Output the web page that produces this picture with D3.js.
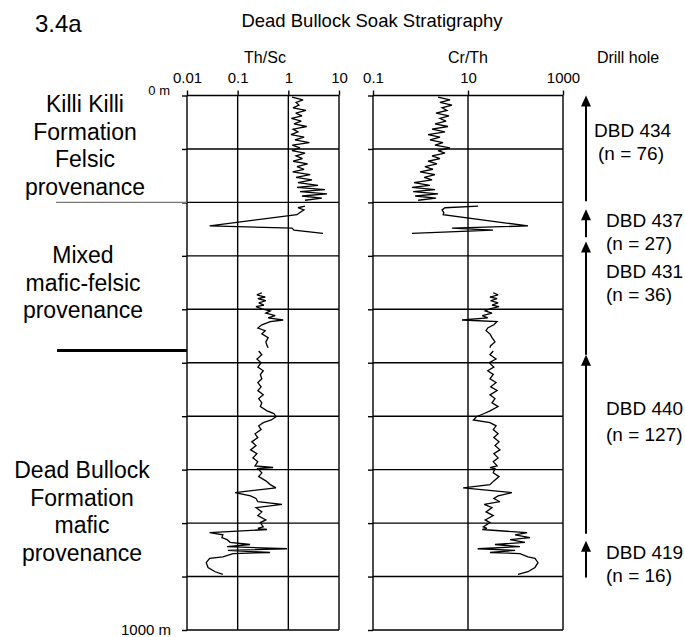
<!DOCTYPE html>
<html>
<head>
<meta charset="utf-8">
<script src="https://cdn.jsdelivr.net/npm/d3@7"></script>
<style>
  body { margin: 0; background: #fff; }
  svg { display: block; }
  text { font-family: "Liberation Sans", Arial, Helvetica, sans-serif; fill: #000; }
</style>
</head>
<body>
<svg id="chart" width="685" height="637"></svg>
<script>
// ---- Depth axis and ratio axes ----
const depthTicks = [0, 100, 200, 300, 400, 500, 600, 700, 800, 900, 1000];
const thscTicks = [0.01, 0.1, 1, 10];
const thscTickLabels = ["0.01", "0.1", "1", "10"];
const crthTicks = [0.1, 10, 1000];
const crthTickLabels = ["0.1", "10", "1000"];

// ---- Drill holes (depth in metres) ----
const holeNames = ["DBD 434", "DBD 437", "DBD 431", "DBD 440", "DBD 419"];
const holeCounts = [76, 27, 36, 127, 16];
const holeTop = [0, 213, 273, 485, 833];
const holeBottom = [198, 265, 485, 820, 902];

// ---- Formation boundaries (m) ----
const felsicBase = 200;
const mixedBase = 477;

// ---- Samples per hole: depth (m), Th/Sc, Cr/Th ----
const depth434 = [3, 8, 13, 18, 23, 28, 33, 38, 43, 48, 53, 58, 63, 68, 73, 78, 83, 88, 93, 98, 103, 108, 113, 118, 123, 128, 133, 138, 143, 148, 153, 158, 163, 168, 172, 176, 180, 184, 188, 192, 196];
const thsc434 = [1.18, 1.95, 1.42, 1.62, 1.24, 2.23, 1.40, 1.86, 1.15, 1.80, 1.29, 2.30, 1.24, 1.55, 1.13, 2.05, 1.35, 2.60, 1.20, 1.70, 1.18, 2.13, 1.42, 1.90, 1.24, 2.40, 1.48, 2.04, 1.22, 2.70, 1.42, 2.93, 1.55, 3.85, 1.48, 5.29, 1.70, 5.80, 1.86, 4.6, 2.13];
const crth434 = [2.34, 4.18, 2.57, 4.6, 2.84, 3.61, 2.12, 3.98, 2.57, 3.44, 2.02, 3.79, 1.75, 3.28, 1.44, 2.57, 1.58, 2.98, 2.02, 4.18, 2.34, 3.28, 1.75, 2.57, 1.44, 2.22, 1.24, 1.83, 0.98, 2.02, 1.2, 1.75, 0.73, 1.58, 0.66, 2.02, 0.70, 2.34, 0.77, 2.12, 0.89];

const depth437 = [207, 210, 214, 219, 223, 244, 248, 252, 258];
const thsc437 = [2.13, 1.55, 2.04, 1.70, 1.48, 0.028, 1.18, 1.29, 4.83];
const crth437 = [16.3, 3.28, 2.84, 3.1, 3.0, 183, 4.6, 33.6, 0.66];

const depth431 = [369, 373, 377, 380, 384, 388, 392, 395, 399, 403, 407, 412, 416, 420, 423, 429, 435, 440, 446, 453, 461, 468, 472];
const thsc431 = [0.30, 0.24, 0.35, 0.25, 0.36, 0.26, 0.33, 0.23, 0.30, 0.44, 0.36, 0.55, 0.40, 0.79, 0.44, 0.30, 0.25, 0.35, 0.30, 0.40, 0.36, 0.38, 0.40];
const crth431 = [34, 43, 29, 41, 30, 43, 32, 45, 29, 23, 32, 20, 26, 7.5, 41, 35, 26, 24, 29, 32, 37, 30, 29];

const depth440 = [478, 485, 493, 500, 508, 515, 522, 530, 537, 545, 552, 560, 567, 575, 582, 590, 595, 601, 607, 612, 618, 625, 633, 640, 648, 655, 663, 670, 678, 685, 693, 696, 698, 706, 713, 721, 728, 734, 743, 749, 754, 760, 765, 771, 779, 786, 794, 799, 807, 810, 812];
const thsc440 = [0.26, 0.30, 0.24, 0.29, 0.25, 0.32, 0.28, 0.30, 0.25, 0.29, 0.25, 0.32, 0.26, 0.30, 0.28, 0.38, 0.52, 0.57, 0.46, 0.32, 0.26, 0.29, 0.22, 0.25, 0.19, 0.23, 0.18, 0.24, 0.20, 0.25, 0.22, 0.50, 0.25, 0.30, 0.26, 0.36, 0.44, 0.57, 0.089, 0.18, 0.23, 0.25, 0.75, 0.23, 0.30, 0.25, 0.36, 0.28, 0.32, 0.25, 0.38];
const crth440 = [34, 29, 39, 28, 35, 26, 34, 29, 39, 30, 41, 29, 37, 32, 43, 29, 22, 15, 13, 29, 39, 34, 43, 35, 45, 37, 47, 35, 43, 34, 41, 29, 37, 34, 45, 35, 29, 7.9, 84, 43, 35, 47, 22, 32, 24, 34, 23, 29, 21, 25, 20];

const depth419 = [818, 822, 827, 831, 836, 840, 844, 848, 851, 855, 857, 863, 866, 874, 883, 891, 896];
const thsc419 = [0.028, 0.051, 0.049, 0.062, 0.071, 0.175, 0.062, 0.94, 0.064, 0.435, 0.081, 0.051, 0.028, 0.024, 0.026, 0.036, 0.051];
const crth419 = [175, 98, 202, 77, 158, 37, 124, 16, 98, 29, 124, 183, 257, 298, 257, 183, 113];

// Holes whose traces are drawn as one continuous line
const traceRuns = [
  [[depth434, thsc434, crth434]],
  [[depth437, thsc437, crth437]],
  [[depth431, thsc431, crth431]],
  [[depth440, thsc440, crth440], [depth419, thsc419, crth419]]
];

// ---- Drawing ----
const svg = d3.select("#chart");
const plotTop = 95.5, plotBottom = 630;
const y = d3.scaleLinear().domain([0, 1000]).range([plotTop, plotBottom]);
const xTh = d3.scaleLog().domain([0.01, 10]).range([187, 339]);
const xCr = d3.scaleLog().domain([0.1, 1000]).range([373, 563]);

const ink = "#000";

function panel(x, ticks, tickLabels) {
  const g = svg.append("g");
  const [x0, x1] = x.range();
  // horizontal depth grid
  g.selectAll("line.h").data(depthTicks).join("line")
    .attr("class", "h")
    .attr("x1", x0).attr("x2", x1)
    .attr("y1", d => y(d)).attr("y2", d => y(d))
    .attr("stroke", ink).attr("stroke-width", 1.4);
  // vertical grid at labelled ratios
  g.selectAll("line.v").data(ticks).join("line")
    .attr("class", "v")
    .attr("x1", d => x(d)).attr("x2", d => x(d))
    .attr("y1", plotTop).attr("y2", plotBottom)
    .attr("stroke", ink).attr("stroke-width", 1.4);
  // top axis with labels
  const axT = g.append("g").attr("transform", `translate(0,${plotTop})`)
    .call(d3.axisTop(x).tickValues(ticks).tickFormat((d, i) => tickLabels[i]).tickSize(5).tickPadding(8));
  axT.select(".domain").remove();
  axT.selectAll("line").attr("stroke", ink).attr("stroke-width", 1.4);
  axT.selectAll("text").attr("font-size", 15).attr("font-family", "Liberation Sans, Arial, sans-serif");
  // left depth ticks
  const axL = g.append("g").attr("transform", `translate(${x0},0)`)
    .call(d3.axisLeft(y).tickValues(depthTicks).tickFormat("").tickSize(5));
  axL.select(".domain").remove();
  axL.selectAll("line").attr("stroke", ink).attr("stroke-width", 1.4);
  return g;
}

const gTh = panel(xTh, thscTicks, thscTickLabels);
const gCr = panel(xCr, crthTicks, crthTickLabels);

function drawTraces(g, x, col) {
  const line = d3.line().x(d => x(d.v)).y(d => y(d.depth));
  traceRuns.forEach(run => {
    const pts = [];
    run.forEach(hole => {
      const dep = hole[0], vals = hole[col];
      dep.forEach((d, i) => pts.push({ depth: d, v: vals[i] }));
    });
    g.append("path").datum(pts).attr("d", line)
      .attr("fill", "none").attr("stroke", ink)
      .attr("stroke-width", 1.3).attr("stroke-linejoin", "miter").attr("stroke-miterlimit", 3);
  });
}
drawTraces(gTh, xTh, 1);
drawTraces(gCr, xCr, 2);

// ---- Headings ----
svg.append("text").attr("x", 35).attr("y", 32).attr("font-size", 24).text("3.4a");
svg.append("text").attr("x", 372).attr("y", 27).attr("font-size", 18.5)
  .attr("text-anchor", "middle").text("Dead Bullock Soak Stratigraphy");
svg.append("text").attr("x", 265).attr("y", 63).attr("font-size", 16)
  .attr("text-anchor", "middle").text("Th/Sc");
svg.append("text").attr("x", 468).attr("y", 63).attr("font-size", 16)
  .attr("text-anchor", "middle").text("Cr/Th");
svg.append("text").attr("x", 628).attr("y", 63).attr("font-size", 16)
  .attr("text-anchor", "middle").text("Drill hole");

// depth labels
svg.append("text").attr("x", 170).attr("y", y(0) - 1).attr("font-size", 13)
  .attr("text-anchor", "end").text("0 m");
svg.append("text").attr("x", 171).attr("y", y(1000) + 5).attr("font-size", 15)
  .attr("text-anchor", "end").text("1000 m");

// ---- Formation boundaries and labels ----
svg.append("line").attr("x1", 56).attr("x2", xTh.range()[0])
  .attr("y1", y(felsicBase)).attr("y2", y(felsicBase))
  .attr("stroke", "#777").attr("stroke-width", 1.2);
svg.append("line").attr("x1", 57).attr("x2", xTh.range()[0])
  .attr("y1", y(mixedBase)).attr("y2", y(mixedBase))
  .attr("stroke", ink).attr("stroke-width", 3);

const unitLabels = [
  { cx: 85, y0: 112, lines: ["Killi Killi", "Formation", "Felsic", "provenance"] },
  { cx: 83, y0: 263, lines: ["Mixed", "mafic-felsic", "provenance"] },
  { cx: 82, y0: 478, lines: ["Dead Bullock", "Formation", "mafic", "provenance"] }
];
unitLabels.forEach(u => {
  const t = svg.append("text").attr("font-size", 23).attr("text-anchor", "middle");
  u.lines.forEach((s, i) => t.append("tspan").attr("x", u.cx).attr("y", u.y0 + i * 27.5).text(s));
});

// ---- Drill hole arrows and labels ----
const arrowX = 586;
const ga = svg.append("g");
holeNames.forEach((name, i) => {
  const yt = y(holeTop[i]), yb = y(holeBottom[i]);
  ga.append("line").attr("x1", arrowX).attr("x2", arrowX)
    .attr("y1", yt + 6).attr("y2", yb).attr("stroke", ink).attr("stroke-width", 2);
  ga.append("path").attr("d", `M${arrowX},${yt} L${arrowX - 5},${yt + 11} L${arrowX + 5},${yt + 11} Z`)
    .attr("fill", ink);
});
const holeLabelPos = [
  { x: 594, y: 137, nx: 598, ny: 160 },
  { x: 606, y: 227, nx: 606, ny: 250 },
  { x: 606, y: 278, nx: 606, ny: 301 },
  { x: 606, y: 415, nx: 606, ny: 441 },
  { x: 606, y: 559, nx: 606, ny: 582 }
];
holeNames.forEach((name, i) => {
  const p = holeLabelPos[i];
  svg.append("text").attr("x", p.x).attr("y", p.y).attr("font-size", 19).text(name);
  svg.append("text").attr("x", p.nx).attr("y", p.ny).attr("font-size", 19).text(`(n = ${holeCounts[i]})`);
});
</script>
</body>
</html>
